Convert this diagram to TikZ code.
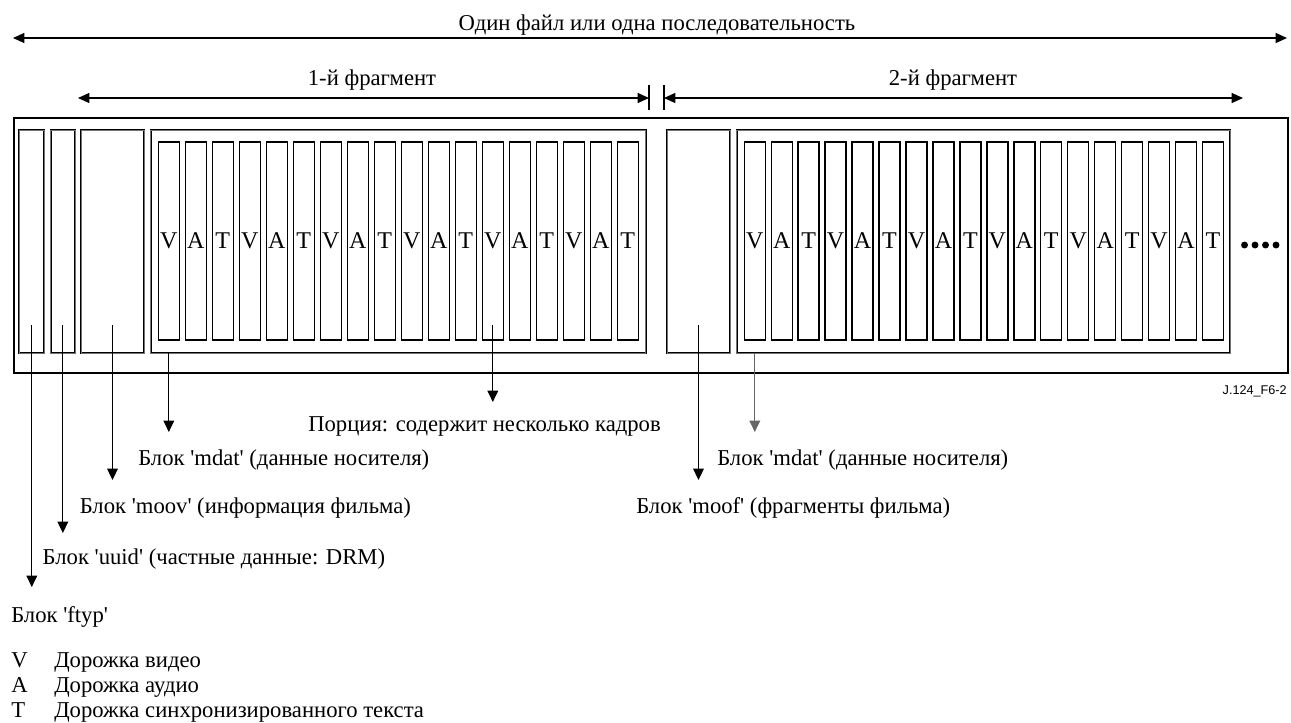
\documentclass[tikz,border=0pt]{standalone}
\usepackage{fontspec}
\setmainfont{Liberation Serif}[Ligatures=TeXOff]
\newfontfamily\sansf{Liberation Sans}
\usetikzlibrary{arrows.meta}
\newcommand\pbox[6]{\node[#6, minimum width={(#4-#2)*0.75pt}, minimum height={(#5-#3)*0.75pt}] (#1) at ({(#2+#4)/2},{(#3+#5)/2}) {};}
\begin{document}
\begin{tikzpicture}[x=0.75pt,y=-0.75pt,
  txt/.style={font=\fontsize{17}{19}\selectfont, inner sep=0pt, anchor=base west},
  arr/.style={line width=0.8pt, -{Triangle[length=8.5pt,width=8pt]}},
  dimline/.style={line width=0.8pt, {Triangle[length=8.5pt,width=7.5pt]}-{Triangle[length=8.5pt,width=7.5pt]}},
  barline/.style={line width=1.2pt},
  outerbox/.style={draw, line width=1.6pt, inner sep=0pt},
  dbox/.style={draw=black, line width=0.55pt, double=black!55, double distance=0.4pt, inner sep=0pt},
  track/.style={draw=black, line width=1.1pt, inner sep=0pt, font=\fontsize{18}{19}\selectfont, text depth=0pt}
]
\useasboundingbox (0,0) rectangle (1291,722);

% top dimension
\coordinate (fileL) at (13,38);
\coordinate (fileR) at (1287,38);
\draw[dimline] (fileL) -- (fileR);
\node[txt, anchor=base] (file) at (657,30) {Один файл или одна последовательность};

% fragment dimensions
\coordinate (fr1L) at (78,98);
\coordinate (bar1) at (649,98);
\coordinate (bar2) at (664,98);
\coordinate (fr2R) at (1243,98);
\draw[barline] (bar1) ++(0,-13) -- ++(0,25);
\draw[barline] (bar2) ++(0,-13) -- ++(0,25);
\draw[dimline] (fr1L) -- (bar1);
\draw[dimline] (bar2) -- (fr2R);
\node[txt, anchor=base] (fr1) at (372,85) {1-й фрагмент};
\node[txt, anchor=base] (fr2) at (953,85) {2-й фрагмент};

% boxes
\pbox{outer}{14}{118}{1288}{373}{outerbox}
\pbox{ftyp}{19.3}{130}{44.3}{353}{dbox}
\pbox{uuid}{50.7}{130}{75}{353}{dbox}
\pbox{moov}{81}{130}{144}{353}{dbox}
\pbox{mdatA}{150.7}{130}{645.7}{353}{dbox}
\pbox{moof}{667}{130}{730}{353}{dbox}
\pbox{mdatB}{736.7}{130}{1230}{353}{dbox}

\foreach \l [count=\i from 0] in {V,A,T,V,A,T,V,A,T,V,A,T,V,A,T,V,A,T}{
  \pgfmathsetmacro\xa{158.3+27*\i}
  \node[track, minimum width=15.75pt, minimum height=148.5pt] (tA\i) at ({\xa+10.5},241) {\l};
  \pgfmathsetmacro\xb{744.3+26.95*\i}
  \node[track, minimum width=15.75pt, minimum height=148.5pt] (tB\i) at ({\xb+10.5},241) {\l};
}

% continuation dots
\foreach \x [count=\j] in {1244.5,1255,1265.5,1276}
  \fill (\x,245) circle[radius=2.6pt] coordinate (dot\j);

% labels
\node[txt] (lport) at (308,431) {Порция: содержит несколько кадров};
\node[txt] (lmdatA) at (138,465) {Блок 'mdat' (данные носителя)};
\node[txt] (lmoov) at (79.5,513) {Блок 'moov' (информация фильма)};
\node[txt] (luuid) at (42.4,564) {Блок 'uuid' (частные данные: DRM)};
\node[txt] (lftyp) at (11,622) {Блок 'ftyp'};
\node[txt] (lmdatB) at (717,465) {Блок 'mdat' (данные носителя)};
\node[txt] (lmoof) at (636,513) {Блок 'moof' (фрагменты фильма)};

% down arrows
\draw[arr] (ftyp.south |- 0,325) -- (ftyp.south |- 0,587);
\draw[arr] (uuid.south |- 0,325) -- (uuid.south |- 0,533);
\draw[arr] (moov.south |- 0,325) -- (moov.south |- 0,480);
\draw[arr] (tA0.center |- mdatA.south) -- (tA0.center |- 0,432);
\draw[arr] (tA12.center |- 0,325) -- (tA12.center |- 0,402);
\draw[arr] (moof.south |- 0,325) -- (moof.south |- 0,480);
\draw[arr, draw=gray!80!black] (tB0.center |- mdatB.south) -- (tB0.center |- 0,432);

% figure id
\node[font=\sansf\fontsize{9.5}{11}\selectfont, inner sep=0pt, anchor=base east] (fid) at (1287,394) {J.124\_F6-2};

% legend
\node[txt] (kV) at (11,667) {V};
\node[txt] (kVt) at (54,667) {Дорожка видео};
\node[txt] (kA) at (11,692) {A};
\node[txt] (kAt) at (54,692) {Дорожка аудио};
\node[txt] (kT) at (11,717) {T};
\node[txt] (kTt) at (54,717) {Дорожка синхронизированного текста};
\end{tikzpicture}
\end{document}
